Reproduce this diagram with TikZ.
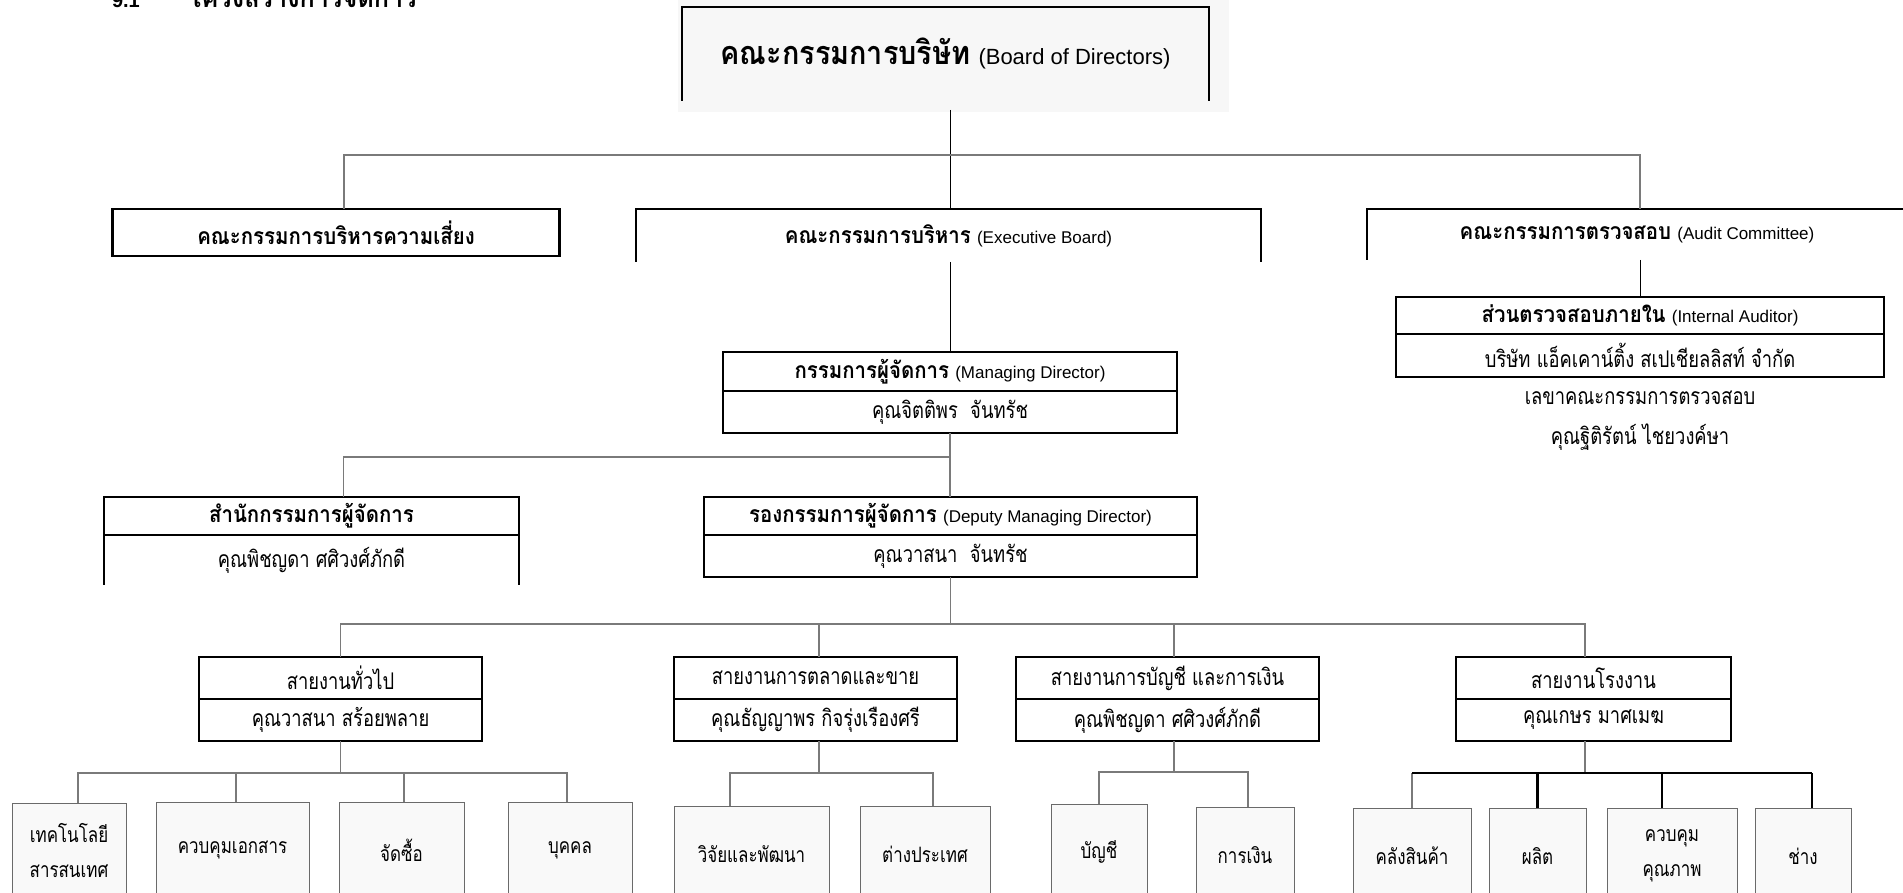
\documentclass[tikz,border=0pt]{standalone}
\usepackage{fontspec}
\setmainfont[Script=Thai, Scale=1.35, UprightFeatures={FakeStretch=0.8}, BoldFeatures={FakeStretch=0.89}]{Loma}
\newfontfamily\latinfont{Liberation Sans}
\usetikzlibrary{calc,positioning}
\definecolor{boardfill}{HTML}{F7F7F7}
\definecolor{leaffill}{HTML}{F9F9F9}
\definecolor{leafline}{HTML}{6A6A6A}
\definecolor{connline}{HTML}{7A7A7A}
\newcommand{\eng}[1]{{\latinfont #1}}
\newcommand{\boxfont}{\fontsize{17}{20}\selectfont}
\newcommand{\leaffont}{\fontsize{15.7}{19}\selectfont}

\begin{document}
\begin{tikzpicture}[
    x=1pt, y=-1pt,
    nosep/.style={inner sep=0, outer sep=0},
    box/.style={nosep, font=\boxfont, draw=black, line width=2.2pt},
    openbox/.style={nosep, font=\boxfont},
    side/.style={draw=black, line width=2.2pt},
    leaf/.style={nosep, font=\leaffont, anchor=north, align=center, draw=leafline,
        line width=1pt, fill=leaffill, minimum height=96},
    conn/.style={draw=connline, line width=1.3pt},
    trunk/.style={draw=black, line width=1pt},
    busbold/.style={draw=black, line width=2.2pt}]
\useasboundingbox (0,0) rectangle (1903,893);

% heading, cut at the top of the page
\node[nosep, anchor=base west, font=\fontsize{20}{24}\selectfont\bfseries] (secno) at (112,8) {\eng{9.1}};
\node[nosep, anchor=base west, font=\fontsize{21}{24}\selectfont\bfseries] (sectitle) at (188,8) {โครงสร้างการจัดการ};

% board
\fill[boardfill] (678,0) rectangle (1229,112);
\node[openbox, minimum width=527, minimum height=92, font=\fontsize{22}{26}\selectfont] (board) at (945.5,53)
    {{\fontsize{24}{26}\selectfont\bfseries คณะกรรมการบริษัท} \eng{(Board of Directors)}};
\path[side] ([yshift=-2pt]board.south west) -- (board.north west) -- (board.north east) -- ([yshift=-2pt]board.south east);

% committees
\node[box, minimum width=447, minimum height=47] (risk) at (336,232.5) {\bfseries คณะกรรมการบริหารความเสี่ยง};
\node[openbox, minimum width=625, minimum height=53] (exec) at (948.5,235.5)
    {{\bfseries คณะกรรมการบริหาร} \eng{(Executive Board)}};
\node[openbox, minimum width=540, minimum height=51] (audit) at (1637,234.5)
    {{\bfseries คณะกรรมการตรวจสอบ} \eng{(Audit Committee)}};
\path[side] (exec.south west) -- (exec.north west) -- (exec.north east) -- (exec.south east);
\path[side] (audit.south west) -- (audit.north west) -- (audit.north east) -- (audit.south east);

% internal audit
\node[box, minimum width=488, minimum height=37] (ia) at (1640,315.5)
    {{\bfseries ส่วนตรวจสอบภายใน} \eng{(Internal Auditor)}};
\node[box, minimum width=488, minimum height=43, below=0pt of ia] (iafirm) {บริษัท แอ็คเคาน์ติ้ง สเปเชียลลิสท์ จำกัด};
\node[nosep, font=\boxfont] (iasec) at (1640,398) {เลขาคณะกรรมการตรวจสอบ};
\node[nosep, font=\boxfont] (iasecname) at (1640,437) {คุณฐิติรัตน์ ไชยวงค์ษา};

% managing director
\node[box, minimum width=454, minimum height=39] (md) at (950,371.5)
    {{\bfseries กรรมการผู้จัดการ} \eng{(Managing Director)}};
\node[box, minimum width=454, minimum height=42, below=0pt of md] (mdname) {คุณจิตติพร\ \ จันทรัช};

% office and deputy
\node[box, minimum width=415, minimum height=38] (office) at (311.5,516) {\bfseries สำนักกรรมการผู้จัดการ};
\node[openbox, minimum width=415, minimum height=50, below=0pt of office] (officename) {คุณพิชญดา ศศิวงศ์ภักดี};
\path[side] (officename.north west) -- (officename.south west);
\path[side] (officename.north east) -- (officename.south east);
\node[box, minimum width=493, minimum height=38] (dmd) at (950.5,516)
    {{\bfseries รองกรรมการผู้จัดการ} \eng{(Deputy Managing Director)}};
\node[box, minimum width=493, minimum height=42, below=0pt of dmd] (dmdname) {คุณวาสนา\ \ จันทรัช};

% divisions
\node[box, minimum width=283, minimum height=42] (general) at (340.5,678) {สายงานทั่วไป};
\node[box, minimum width=283, minimum height=42, below=0pt of general] (generalname) {คุณวาสนา สร้อยพลาย};
\node[box, minimum width=283, minimum height=42] (market) at (815.5,678) {สายงานการตลาดและขาย};
\node[box, minimum width=283, minimum height=42, below=0pt of market] (marketname) {คุณธัญญาพร กิจรุ่งเรืองศรี};
\node[box, minimum width=303, minimum height=42] (account) at (1167.5,678) {สายงานการบัญชี และการเงิน};
\node[box, minimum width=303, minimum height=42, below=0pt of account] (accountname) {คุณพิชญดา ศศิวงศ์ภักดี};
\node[box, minimum width=275, minimum height=42] (factory) at (1593.5,678) {สายงานโรงงาน};
\node[box, minimum width=275, minimum height=42, below=0pt of factory] (factoryname) {คุณเกษร มาศเมฆ};

% departments
\node[leaf, minimum width=114] (it) at (69,803) {เทคโนโลยี\\[16pt]สารสนเทศ};
\node[leaf, minimum width=153] (docs) at (232.5,802) {ควบคุมเอกสาร};
\node[leaf, minimum width=125] (purchase) at (401.5,802) {จัดซื้อ};
\node[leaf, minimum width=124] (hr) at (570,802) {บุคคล};
\node[leaf, minimum width=155] (rnd) at (751.5,806) {วิจัยและพัฒนา};
\node[leaf, minimum width=130] (foreign) at (925,806) {ต่างประเทศ};
\node[leaf, minimum width=96] (acc) at (1099,804) {บัญชี};
\node[leaf, minimum width=98] (fin) at (1245,807) {การเงิน};
\node[leaf, minimum width=118] (store) at (1412,808) {คลังสินค้า};
\node[leaf, minimum width=97] (prod) at (1537.5,808) {ผลิต};
\node[leaf, minimum width=130] (qc) at (1672,808) {ควบคุม\\[16pt]คุณภาพ};
\node[leaf, minimum width=96] (tech) at (1803,808) {ช่าง};

% bus lines
\coordinate (topbus) at ([yshift=54pt]risk.north);
\coordinate (mdbus) at ([yshift=-24pt]mdname.south);
\coordinate (divbus) at ([yshift=-47pt]dmdname.south);
\coordinate (genbus) at ([yshift=-32pt]generalname.south);
\coordinate (mktbus) at ([yshift=-32pt]marketname.south);
\coordinate (accbus) at ([yshift=-31pt]accountname.south);
\coordinate (facbus) at ([yshift=-32pt]factoryname.south);

\path[draw, trunk] ($(board.south -| md.north)+(0,11)$) -- (md.north |- exec.north);
\path[draw, conn] ([xshift=8pt]risk.north) |- (topbus -| md.north) -| (ia.north |- audit.north);
\path[draw, trunk] (md.north |- exec.south) -- (md.north);
\path[draw, trunk] (ia.north |- audit.south) -- (ia.north);
\path[draw, conn] (mdname.south) -- (mdname.south |- dmd.north);
\path[draw, conn] ([xshift=32pt]office.north) |- (mdbus);
\path[draw, conn] (dmdname.south) -- (dmdname.south |- divbus);
\path[draw, conn] (general.north) |- (divbus) -| ([xshift=-8.5pt]factory.north);
\path[draw, conn] ([xshift=3.5pt]market.north) -- ([xshift=3.5pt]market.north |- divbus);
\path[draw, conn] ([xshift=6.5pt]account.north) -- ([xshift=6.5pt]account.north |- divbus);

\path[draw, conn] (generalname.south) -- (genbus);
\path[draw, conn] ([xshift=9pt]it.north) |- (genbus) -| ([xshift=-3pt]hr.north);
\path[draw, conn] ([xshift=3.5pt]docs.north) -- ([xshift=3.5pt]docs.north |- genbus);
\path[draw, conn] ([xshift=2.5pt]purchase.north) -- ([xshift=2.5pt]purchase.north |- genbus);
\path[draw, conn] ([xshift=3.5pt]marketname.south) -- ([xshift=3.5pt]mktbus);
\path[draw, conn] ([xshift=-21.5pt]rnd.north) |- ([xshift=3.5pt]mktbus) -| ([xshift=8pt]foreign.north);
\path[draw, conn] ([xshift=6.5pt]accountname.south) -- ([xshift=6.5pt]accbus);
\path[draw, conn] (acc.north) |- ([xshift=6.5pt]accbus) -| ([xshift=3pt]fin.north);
\path[draw, conn] ([xshift=-8.5pt]factoryname.south) -- ([xshift=-8.5pt]facbus);
\path[draw, conn] (store.north) -- (store.north |- facbus);
\path[draw, busbold] (store.north |- facbus) -- ([xshift=9pt]tech.north |- facbus);
\path[draw, busbold] (prod.north) -- (prod.north |- facbus);
\path[draw, busbold] ([xshift=-10pt]qc.north) -- ([xshift=-10pt]qc.north |- facbus);
\path[draw, busbold] ([xshift=9pt]tech.north) -- ([xshift=9pt]tech.north |- facbus);

\end{tikzpicture}
\end{document}
